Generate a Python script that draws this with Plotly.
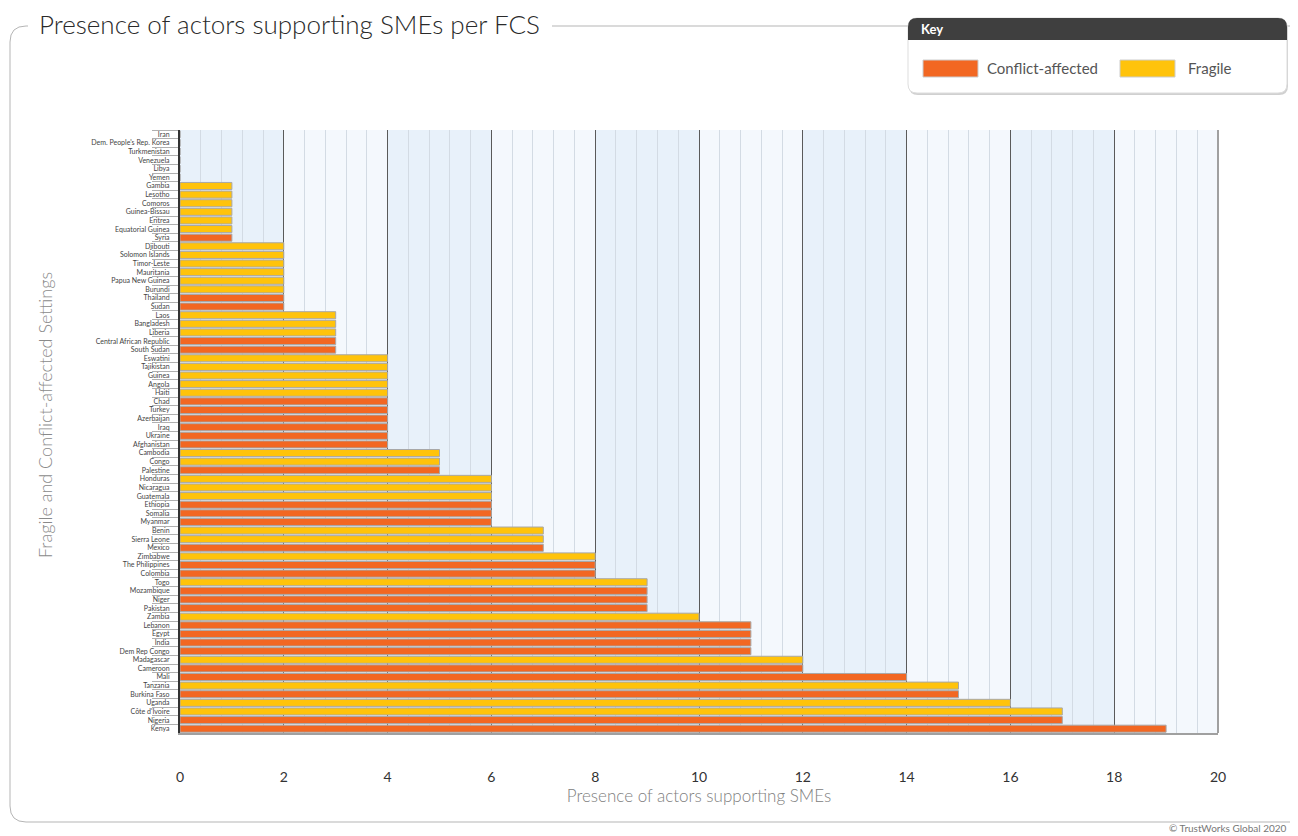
import plotly.graph_objects as go

countries = [
    "Iran", "Dem. People's Rep. Korea", "Turkmenistan", "Venezuela", "Libya", "Yemen",
    "Gambia", "Lesotho", "Comoros", "Guinea-Bissau", "Eritrea", "Equatorial Guinea", "Syria",
    "Djibouti", "Solomon Islands", "Timor-Leste", "Mauritania", "Papua New Guinea", "Burundi",
    "Thailand", "Sudan", "Laos", "Bangladesh", "Liberia", "Central African Republic", "South Sudan",
    "Eswatini", "Tajikistan", "Guinea", "Angola", "Haiti", "Chad", "Turkey", "Azerbaijan", "Iraq",
    "Ukraine", "Afghanistan", "Cambodia", "Congo", "Palestine", "Honduras", "Nicaragua", "Guatemala",
    "Ethiopia", "Somalia", "Myanmar", "Benin", "Sierra Leone", "Mexico", "Zimbabwe",
    "The Philippines", "Colombia", "Togo", "Mozambique", "Niger", "Pakistan", "Zambia", "Lebanon",
    "Egypt", "India", "Dem Rep Congo", "Madagascar", "Cameroon", "Mali", "Tanzania", "Burkina Faso",
    "Uganda", "Côte d'Ivoire", "Nigeria", "Kenya",
]
values = [
    0, 0, 0, 0, 0, 0,
    1, 1, 1, 1, 1, 1, 1,
    2, 2, 2, 2, 2, 2, 2, 2,
    3, 3, 3, 3, 3,
    4, 4, 4, 4, 4, 4, 4, 4, 4, 4, 4,
    5, 5, 5,
    6, 6, 6, 6, 6, 6,
    7, 7, 7,
    8, 8, 8,
    9, 9, 9, 9,
    10,
    11, 11, 11, 11,
    12, 12,
    14,
    15, 15,
    16, 17, 17, 19,
]
# F = Fragile, C = Conflict-affected
setting = [
    "C", "C", "C", "C", "C", "C",
    "F", "F", "F", "F", "F", "F", "C",
    "F", "F", "F", "F", "F", "F", "C", "C",
    "F", "F", "F", "C", "C",
    "F", "F", "F", "F", "F", "C", "C", "C", "C", "C", "C",
    "F", "F", "C",
    "F", "F", "F", "C", "C", "C",
    "F", "F", "C",
    "F", "C", "C",
    "F", "C", "C", "C",
    "F",
    "C", "C", "C", "C",
    "F", "C",
    "C",
    "F", "C",
    "F", "F", "C", "C",
]
x_ticks = [0, 2, 4, 6, 8, 10, 12, 14, 16, 18, 20]
legend_labels = ["Conflict-affected", "Fragile"]

C_COL = "#F26722"
F_COL = "#FFC30B"
colors = [C_COL if s == "C" else F_COL for s in setting]

OFF = 8  # page body margin
W, H = 1298 - OFF, 836 - OFF
L, T, PW, PH = 180 - OFF, 130 - OFF, 1038, 603


def px(x):
    return (x - OFF - L) / PW


def py(y):
    return (T + PH - (y - OFF)) / PH


def rrect(x0, y0, x1, y1, r, top_only=False):
    rx, ry = r / PW, r / PH
    X0, X1 = px(x0), px(x1)
    Y0, Y1 = py(y0), py(y1)  # Y0 top (bigger), Y1 bottom
    if top_only:
        return (f"M {X0},{Y1} L {X0},{Y0-ry} Q {X0},{Y0} {X0+rx},{Y0} "
                f"L {X1-rx},{Y0} Q {X1},{Y0} {X1},{Y0-ry} L {X1},{Y1} Z")
    return (f"M {X0+rx},{Y0} L {X1-rx},{Y0} Q {X1},{Y0} {X1},{Y0-ry} "
            f"L {X1},{Y1+ry} Q {X1},{Y1} {X1-rx},{Y1} L {X0+rx},{Y1} "
            f"Q {X0},{Y1} {X0},{Y1+ry} L {X0},{Y0-ry} Q {X0},{Y0} {X0+rx},{Y0} Z")


fig = go.Figure()
fig.add_trace(go.Bar(
    y=countries, x=values, orientation="h",
    marker=dict(color=colors, line=dict(color="#a8a8a8", width=1)),
    width=0.82, showlegend=False,
    hovertemplate="%{y}: %{x}<extra></extra>",
))

shapes = []
# alternating background bands
for i in range(0, len(x_ticks) - 1):
    col = "#e8f1fa" if i % 2 == 0 else "#f4f8fd"
    shapes.append(dict(type="rect", xref="x", yref="paper", x0=x_ticks[i], x1=x_ticks[i + 1],
                       y0=0, y1=1, fillcolor=col, line=dict(width=0), layer="below"))

# outer frame
fx0, fy0, fy1 = 10, 26, 822
r = 16
frame_left = (f"M {px(28)},{py(fy0)} L {px(fx0+r)},{py(fy0)} "
              f"Q {px(fx0)},{py(fy0)} {px(fx0)},{py(fy0+r)} "
              f"L {px(fx0)},{py(fy1-r)} Q {px(fx0)},{py(fy1)} {px(fx0+r)},{py(fy1)} "
              f"L {px(1310)},{py(fy1)}")
shapes.append(dict(type="path", xref="paper", yref="paper", path=frame_left,
                   line=dict(color="#b5b5b5", width=1)))
shapes.append(dict(type="line", xref="paper", yref="paper", x0=px(552), x1=px(1310),
                   y0=py(fy0), y1=py(fy0), line=dict(color="#b5b5b5", width=1)))

# legend box
lx0, ly0, lx1, ly1 = 908, 18, 1287, 93
shapes.append(dict(type="path", xref="paper", yref="paper", path=rrect(lx0 + 1, ly0 + 2, lx1 + 1, ly1 + 2, 9),
                   fillcolor="#d0d0d0", line=dict(width=0)))
shapes.append(dict(type="path", xref="paper", yref="paper", path=rrect(lx0, ly0, lx1, ly1, 9),
                   fillcolor="white", line=dict(color="#dddddd", width=1)))
shapes.append(dict(type="path", xref="paper", yref="paper", path=rrect(lx0, ly0, lx1, 40, 9, top_only=True),
                   fillcolor="#3f3f3f", line=dict(width=0)))
for (x0, col) in [(923, C_COL), (1120, F_COL)]:
    shapes.append(dict(type="rect", xref="paper", yref="paper", x0=px(x0), x1=px(x0 + 55),
                       y0=py(77), y1=py(60), fillcolor=col, line=dict(color="#cccccc", width=1)))

annotations = [
    dict(text="Presence of actors supporting SMEs per FCS", xref="paper", yref="paper",
         x=px(37), y=py(24), xanchor="left", yanchor="middle", showarrow=False,
         font=dict(family="Lato", size=26, color="#2a2a2a", weight=300)),
    dict(text="<b>Key</b>", xref="paper", yref="paper", x=px(919), y=py(29),
         xanchor="left", yanchor="middle", showarrow=False,
         font=dict(family="Lato", size=13, color="white")),
    dict(text=legend_labels[0], xref="paper", yref="paper", x=px(985), y=py(68),
         xanchor="left", yanchor="middle", showarrow=False,
         font=dict(family="Lato", size=15, color="#555555")),
    dict(text=legend_labels[1], xref="paper", yref="paper", x=px(1186), y=py(68),
         xanchor="left", yanchor="middle", showarrow=False,
         font=dict(family="Lato", size=15, color="#555555")),
    dict(text="Fragile and Conflict-affected Settings", xref="paper", yref="paper",
         x=px(45), y=py(415), textangle=-90, xanchor="center", yanchor="middle", showarrow=False,
         font=dict(family="Lato", size=18, color="#8a8a8a", weight=300)),
    dict(text="© TrustWorks Global 2020", xref="paper", yref="paper", x=px(1289), y=py(828),
         xanchor="right", yanchor="middle", showarrow=False,
         font=dict(family="Lato", size=10, color="#777777")),
]

fig.update_layout(
    width=W, height=H,
    margin=dict(l=L, r=W - L - PW, t=T, b=H - T - PH, autoexpand=False),
    paper_bgcolor="white", plot_bgcolor="white",
    shapes=shapes, annotations=annotations,
    font=dict(family="Lato"),
)
fig.update_xaxes(
    range=[0, 20], tickvals=x_ticks, showgrid=True, gridcolor="#5a5a5a", gridwidth=1,
    minor=dict(dtick=0.4, tick0=0, showgrid=True, gridcolor="#d3dbe4", gridwidth=1),
    zeroline=False, showline=True, linecolor="#a0a0a0", linewidth=2, mirror=False,
    tickfont=dict(size=14, color="#333333"), ticklabelstandoff=30,
    title=dict(text="Presence of actors supporting SMEs", font=dict(size=17, color="#808080", weight=300),
               standoff=6),
    fixedrange=True,
)
fig.update_yaxes(
    type="category", categoryorder="array", categoryarray=countries, autorange="reversed",
    showline=True, linecolor="#333333", linewidth=2, showgrid=False,
    ticks="outside", tickson="boundaries", ticklen=26, tickcolor="#b0b0b0", tickwidth=1,
    ticklabelstandoff=7,
    tickfont=dict(size=7, color="#444444"),
    fixedrange=True,
)
# right border of plot area
fig.add_shape(type="line", xref="paper", yref="paper", x0=1, x1=1, y0=0, y1=1,
              line=dict(color="#a0a0a0", width=2))

fig.write_html("out.html")
